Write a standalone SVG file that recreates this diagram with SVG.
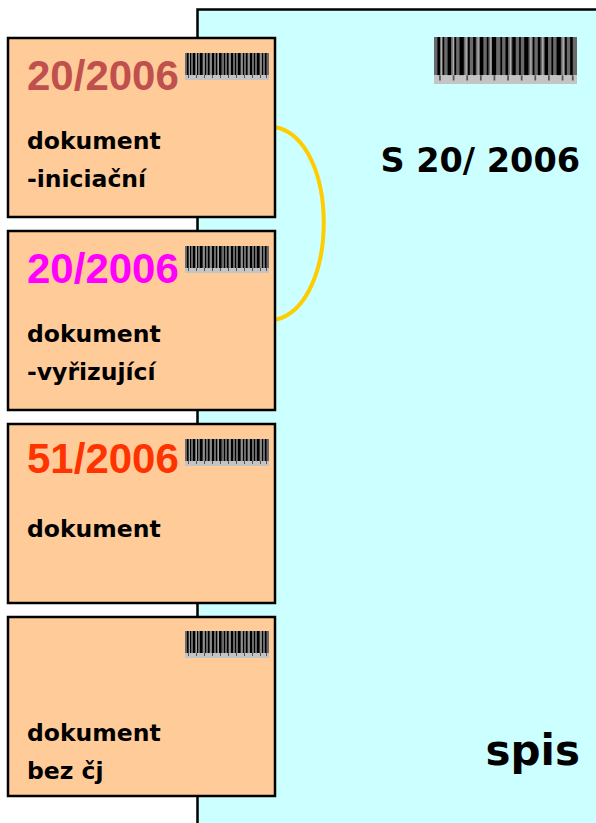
<svg xmlns="http://www.w3.org/2000/svg" width="596" height="823" viewBox="0 0 596 823">
<style>
.card{fill:#FFCC99;stroke:#000;stroke-width:2.5}
.num{font-family:"Liberation Sans",Arial,sans-serif;font-weight:bold;font-size:42px}
.lbl{font-family:"DejaVu Sans",Verdana,sans-serif;font-weight:bold;font-size:23.5px;fill:#000}
.big{font-family:"DejaVu Sans",Verdana,sans-serif;font-weight:bold;fill:#000}
</style>
<defs>
<symbol id="bc" viewBox="0 0 84 27" preserveAspectRatio="none">
<rect x="0" y="0" width="84" height="22" fill="#6a6a6a"/>
<g fill="#000">
<rect x="2" y="0" width="1.5" height="22"/><rect x="5" y="0" width="1" height="22"/><rect x="8" y="0" width="2" height="22"/>
<rect x="12" y="0" width="1" height="22"/><rect x="15" y="0" width="2.5" height="22"/><rect x="20" y="0" width="1" height="22"/>
<rect x="23" y="0" width="1.5" height="22"/><rect x="27" y="0" width="2" height="22"/><rect x="31" y="0" width="1" height="22"/>
<rect x="34" y="0" width="2.5" height="22"/><rect x="39" y="0" width="1" height="22"/><rect x="42" y="0" width="1.5" height="22"/>
<rect x="46" y="0" width="2" height="22"/><rect x="50" y="0" width="1" height="22"/><rect x="53" y="0" width="2.5" height="22"/>
<rect x="58" y="0" width="1" height="22"/><rect x="61" y="0" width="1.5" height="22"/><rect x="65" y="0" width="2" height="22"/>
<rect x="69" y="0" width="1" height="22"/><rect x="72" y="0" width="2.5" height="22"/><rect x="77" y="0" width="1" height="22"/>
<rect x="80" y="0" width="1.5" height="22"/>
</g>
<g fill="#b0b0b0">
<rect x="4" y="0" width="0.8" height="22"/><rect x="11" y="0" width="0.8" height="22"/><rect x="18.5" y="0" width="0.8" height="22"/>
<rect x="25.5" y="0" width="0.8" height="22"/><rect x="33" y="0" width="0.8" height="22"/><rect x="44.5" y="0" width="0.8" height="22"/>
<rect x="56.5" y="0" width="0.8" height="22"/><rect x="63.5" y="0" width="0.8" height="22"/><rect x="75.5" y="0" width="0.8" height="22"/>
</g>
<rect x="0" y="22" width="84" height="5" fill="#c4c4c4"/>
<g fill="#555">
<rect x="3" y="22" width="1" height="3"/><rect x="11" y="22" width="1" height="3"/><rect x="19" y="22" width="1" height="3"/>
<rect x="27" y="22" width="1" height="3"/><rect x="35" y="22" width="1" height="3"/><rect x="43" y="22" width="1" height="3"/>
<rect x="51" y="22" width="1" height="3"/><rect x="59" y="22" width="1" height="3"/><rect x="67" y="22" width="1" height="3"/>
<rect x="75" y="22" width="1" height="3"/><rect x="81" y="22" width="1" height="3"/>
</g>
</symbol>
</defs>
<rect width="596" height="823" fill="#fff"/>
<g id="spis">
<rect x="197.5" y="9.5" width="410" height="830" fill="#CCFFFF" stroke="#000" stroke-width="2.5"/>
<use href="#bc" x="434" y="37" width="143" height="47"/>
<text class="big" x="580" y="172" font-size="33.5" text-anchor="end">S 20/ 2006</text>
<text class="big" x="580" y="765" font-size="42" text-anchor="end">spis</text>
</g>
<g id="connectors">
<path d="M275,127 C340,140 340,305 275,320" fill="none" stroke="#FFCC00" stroke-width="4"/>
</g>
<g id="doc1">
<rect class="card" x="8" y="38" width="267" height="179"/>
<use href="#bc" x="185" y="53" width="84" height="27"/>
<text class="num" x="27" y="90" fill="#C0504D">20/2006</text>
<text class="lbl" x="27" y="149">dokument</text>
<text class="lbl" x="27" y="187">-iniciační</text>
</g>
<g id="doc2">
<rect class="card" x="8" y="231" width="267" height="179"/>
<use href="#bc" x="185" y="246" width="84" height="27"/>
<text class="num" x="27" y="283" fill="#FF00FF">20/2006</text>
<text class="lbl" x="27" y="342">dokument</text>
<text class="lbl" x="27" y="380">-vyřizující</text>
</g>
<g id="doc3">
<rect class="card" x="8" y="424" width="267" height="179"/>
<use href="#bc" x="185" y="439" width="84" height="27"/>
<text class="num" x="27" y="473" fill="#FF3300">51/2006</text>
<text class="lbl" x="27" y="537">dokument</text>
</g>
<g id="doc4">
<rect class="card" x="8" y="617" width="267" height="179"/>
<use href="#bc" x="185" y="631" width="84" height="27"/>
<text class="lbl" x="27" y="741">dokument</text>
<text class="lbl" x="27" y="779">bez čj</text>
</g>
</svg>
